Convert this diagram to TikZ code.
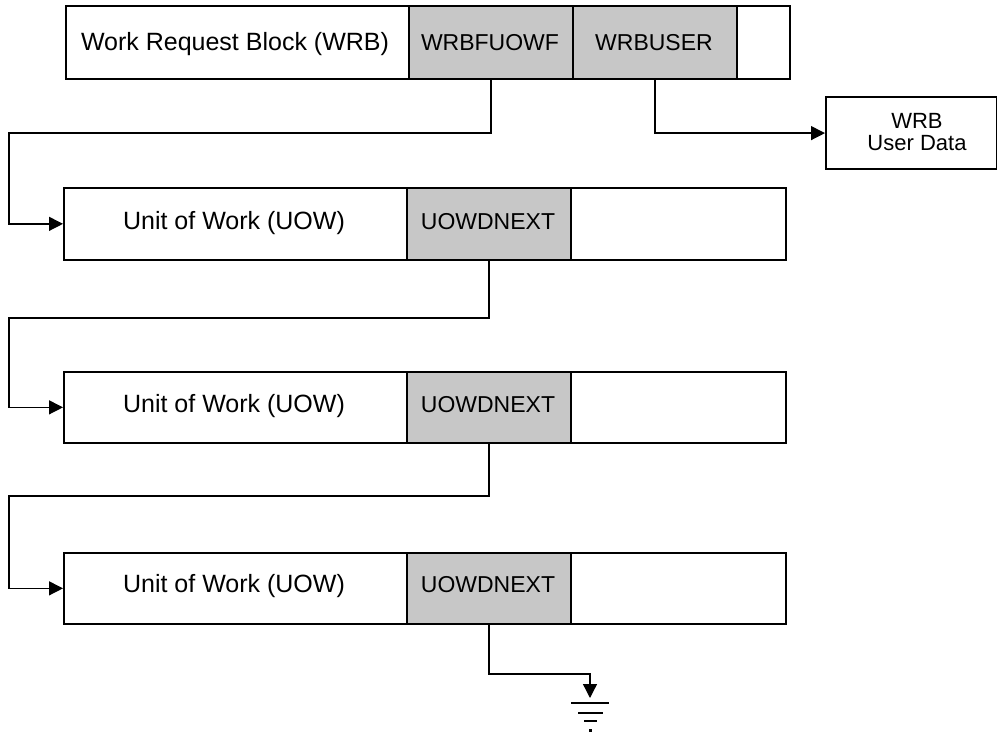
\documentclass[tikz,border=0pt]{standalone}
\usepackage{fontspec}
\setmainfont{Liberation Sans}
\usetikzlibrary{arrows.meta}
\begin{document}
\begin{tikzpicture}[x=1pt,y=-1pt,
  outer/.style={draw, line width=2.2pt, inner sep=0pt, anchor=north west},
  cell/.style={draw, line width=1.8pt, fill=black!22, inner sep=0pt, anchor=north west, minimum width=164pt},
  celltxt/.style={anchor=base, inner sep=0pt, font=\fontsize{23}{25}\selectfont},
  lbl/.style={anchor=base, font=\fontsize{25}{28}\selectfont, inner sep=0pt},
  conn/.style={line width=1.3pt},
  tip/.style={-{Triangle[length=14pt,width=14pt]}},
  gline/.style={line width=1.8pt}]
\useasboundingbox (0,0) rectangle (997,734);

% Work Request Block
\node[cell, minimum height=73pt] (wrbf) at (408,5) {};
\node[cell, minimum height=73pt] (wrbu) at (572,5) {};
\node[outer, minimum width=724pt, minimum height=73pt] (wrb) at (65,5) {};
\node[lbl] (wrbl) at (235,50) {Work Request Block (WRB)};
\node[celltxt] (wrbft) at (490,50) {WRBFUOWF};
\node[celltxt] (wrbut) at (654,50) {WRBUSER};

% WRB user data
\node[draw, line width=2.2pt, inner sep=0pt, anchor=north west, minimum width=171pt, minimum height=72pt] (ud) at (825,96) {};
\node[anchor=base, inner sep=0pt, font=\fontsize{22}{23}\selectfont] (udt1) at (917,128) {WRB};
\node[anchor=base, inner sep=0pt, font=\fontsize{22}{23}\selectfont] (udt2) at (917,150) {User Data};

% Units of work
\node[cell, minimum height=71.5pt] (n1) at (406,187) {};
\node[outer, minimum width=722pt, minimum height=71.5pt] (u1) at (63,187) {};
\node[lbl] (u1l) at (234,229) {Unit of Work (UOW)};
\node[celltxt] (n1t) at (488,229) {UOWDNEXT};

\node[cell, minimum height=71.5pt] (n2) at (406,370.5) {};
\node[outer, minimum width=722pt, minimum height=71.5pt] (u2) at (63,370.5) {};
\node[lbl] (u2l) at (234,412) {Unit of Work (UOW)};
\node[celltxt] (n2t) at (488,412) {UOWDNEXT};

\node[cell, minimum height=71.5pt] (n3) at (406,551.5) {};
\node[outer, minimum width=722pt, minimum height=71.5pt] (u3) at (63,551.5) {};
\node[lbl] (u3l) at (234,592) {Unit of Work (UOW)};
\node[celltxt] (n3t) at (488,592) {UOWDNEXT};

% connectors
\coordinate (k1) at (9,133);
\coordinate (k2) at (9,318);
\coordinate (k3) at (9,496);
\draw[conn,tip] (wrbf.south) |- (k1) |- (u1.west);
\draw[conn,tip] (wrbu.south) |- (ud.west);
\draw[conn,tip] (n1.south) |- (k2) |- (u2.west);
\draw[conn,tip] (n2.south) |- (k3) |- (u3.west);

% ground
\coordinate (gbend) at (590,674);
\coordinate (gtip) at (590,698);
\draw[conn,tip] (n3.south) |- (gbend) -- (gtip);
\draw[gline] (571,703) -- (609,703);
\draw[gline] (578,713) -- (603,713);
\draw[gline] (584,721) -- (597,721);
\fill (588.5,728.5) rectangle (591.5,731.5);
\end{tikzpicture}
\end{document}
